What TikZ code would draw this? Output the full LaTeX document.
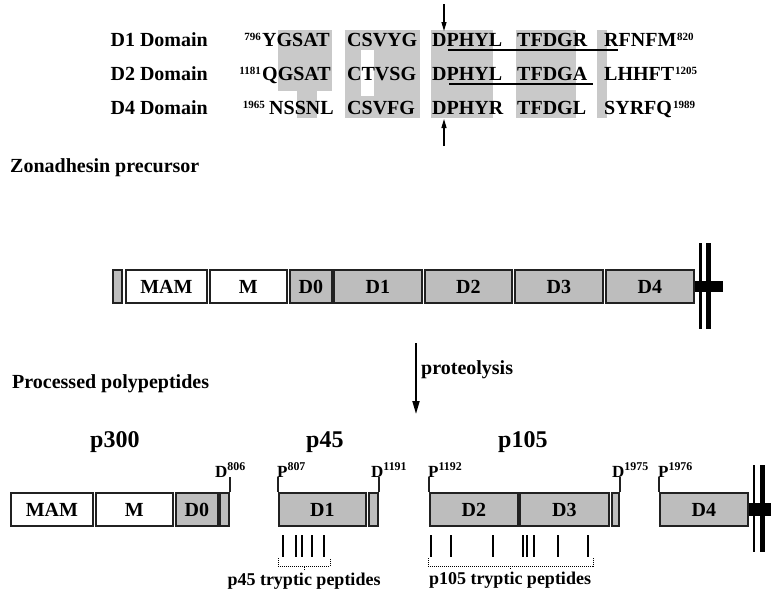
\documentclass[tikz,border=0pt]{standalone}
\usepackage{fontspec}
\setmainfont{Liberation Serif}
\usetikzlibrary{arrows.meta, positioning}
\definecolor{boxgrey}{gray}{0.74}
\definecolor{shadegrey}{gray}{0.79}
\definecolor{edgegrey}{gray}{0.13}

\newcommand{\fs}[1]{\fontsize{#1}{#1}\selectfont\bfseries}

\begin{document}
\begin{tikzpicture}[x=1pt, y=-1pt,
  dom/.style={draw=edgegrey, line width=1.8pt, minimum height=33pt, inner sep=0pt, anchor=west, font=\fs{20}},
  whitedom/.style={dom, fill=white},
  greydom/.style={dom, fill=boxgrey},
  seq/.style={anchor=base west, inner sep=0pt, font=\fs{20}},
  num/.style={inner sep=0pt, font=\fs{11}},
  site/.style={anchor=base west, inner sep=0pt, font=\fs{17}},
  title/.style={anchor=base west, inner sep=0pt, font=\fs{20}},
  cut/.style={line width=1.4pt, draw=edgegrey},
  thinmark/.style={line width=1.2pt},
  thickmark/.style={line width=2.4pt},
  bracket/.style={densely dotted, line width=1pt},
  memthin/.style={line width=2.5pt},
  memthick/.style={line width=5pt},
  pointer/.style={-{Triangle[length=9pt,width=5pt]}, line width=1.2pt},
]
\useasboundingbox (0,0) rectangle (771,595);

% alignment of the domains
\fill[shadegrey] (278,30) rectangle (332,91);
\fill[shadegrey] (297,91) rectangle (317,118);
\fill[shadegrey] (345,30) rectangle (420,118);
\fill[white] (361,50) rectangle (374,96);
\fill[shadegrey] (431,30) rectangle (493,118);
\fill[shadegrey] (516,30) rectangle (576,118);
\fill[shadegrey] (597,30) rectangle (607,118);

\node[title, anchor=base east] (lab1) at (208,46) {D1 Domain};
\node[title, anchor=base east] (lab2) at (208,80) {D2 Domain};
\node[title, anchor=base east] (lab4) at (208,114) {D4 Domain};

\node[num, anchor=base east] (n796) at (261,40) {796};
\node[seq] (g11) at (262,46) {YGSAT};
\node[seq] (g12) at (347,46) {CSVYG};
\node[seq] (g13) at (432,46) {DPHYL};
\node[seq] (g14) at (517,46) {TFDGR};
\node[seq] (g15) at (604,46) {RFNFM};
\node[num, anchor=base west] (n820) at (677,40) {820};

\node[num, anchor=base east] (n1181) at (261,74) {1181};
\node[seq] (g21) at (262,80) {QGSAT};
\node[seq] (g22) at (347,80) {CTVSG};
\node[seq] (g23) at (432,80) {DPHYL};
\node[seq] (g24) at (517,80) {TFDGA};
\node[seq] (g25) at (604,80) {LHHFT};
\node[num, anchor=base west] (n1205) at (675,74) {1205};

\node[num, anchor=base east] (n1965) at (265,108) {1965};
\node[seq] (g31) at (269,114) {NSSNL};
\node[seq] (g32) at (347,114) {CSVFG};
\node[seq] (g33) at (432,114) {DPHYR};
\node[seq] (g34) at (517,114) {TFDGL};
\node[seq] (g35) at (604,114) {SYRFQ};
\node[num, anchor=base west] (n1989) at (673,108) {1989};

\draw[line width=1.5pt] (448,50) -- (618,50);
\draw[line width=1.5pt] (449,84) -- (593,84);

\coordinate (top1) at (444,4);
\coordinate (cut1) at (444,31);
\draw[pointer] (top1) -- (cut1);
\coordinate (bot1) at (444,146);
\coordinate (cut2) at (444,119);
\draw[pointer] (bot1) -- (cut2);

% precursor
\node[title] (zona) at (10,172) {Zonadhesin precursor};

\node[greydom, minimum width=9pt] (sig) at (112,286.5) {};
\node[whitedom, minimum width=81pt] (mam) at (125,286.5) {MAM};
\node[whitedom, minimum width=77pt] (m) at (209,286.5) {M};
\node[greydom, minimum width=42pt] (d0) at (289,286.5) {D0};
\node[greydom, minimum width=88pt] (d1) at (333,286.5) {D1};
\node[greydom, minimum width=87pt] (d2) at (424,286.5) {D2};
\node[greydom, minimum width=88pt] (d3) at (514,286.5) {D3};
\node[greydom, minimum width=88pt] (d4) at (605,286.5) {D4};
\coordinate (tail1) at (723,286.5);
\draw[line width=11pt] (d4.east) -- (tail1);
\draw[memthin] (700.5,243) -- (700.5,329);
\draw[memthick] (708,243) -- (708,329);

% cleavage
\coordinate (pstart) at (416,343);
\coordinate (pend) at (416,414);
\draw[-{Triangle[length=13pt,width=7pt]}, line width=1.8pt] (pstart) -- (pend);
\node[title, anchor=west] (prot) at (421,370) {proteolysis};

\node[title] (proc) at (12,388) {Processed polypeptides};

% processed products
\node[title, font=\fs{24}] (p300) at (90,447) {p300};
\node[title, font=\fs{24}] (p45) at (306,447) {p45};
\node[title, font=\fs{24}] (p105) at (498,447) {p105};

\node[whitedom, minimum width=82pt] (pmam) at (10,509.5) {MAM};
\node[whitedom, minimum width=77pt] (pm) at (95,509.5) {M};
\node[greydom, minimum width=42pt] (pd0) at (175,509.5) {D0};
\node[greydom, minimum width=9pt] (pe1) at (219,509.5) {};
\node[greydom, minimum width=87pt] (pd1) at (278,509.5) {D1};
\node[greydom, minimum width=9pt] (pe2) at (368,509.5) {};
\node[greydom, minimum width=88pt] (pd2) at (429,509.5) {D2};
\node[greydom, minimum width=89pt] (pd3) at (519,509.5) {D3};
\node[greydom, minimum width=7pt] (pe3) at (611,509.5) {};
\node[greydom, minimum width=88pt] (pd4) at (659,509.5) {D4};
\coordinate (tail2) at (771,509.5);
\draw[line width=13pt] (pd4.east) -- (tail2);
\draw[memthin] (754,465) -- (754,552);
\draw[memthick] (762,465) -- (762,552);

\node[site] (s806) at (215,477) {D\textsuperscript{806}};
\node[site] (s807) at (277,477) {P\textsuperscript{807}};
\node[site] (s1191) at (371,477) {D\textsuperscript{1191}};
\node[site] (s1192) at (428,477) {P\textsuperscript{1192}};
\node[site] (s1975) at (612,477) {D\textsuperscript{1975}};
\node[site] (s1976) at (658,477) {P\textsuperscript{1976}};
\draw[cut] (pe1.north east) -- (pe1.north east |- s806.south);
\draw[cut] (pd1.north west) -- (pd1.north west |- s807.south);
\draw[cut] (pe2.north east) -- (pe2.north east |- s1191.south);
\draw[cut] (pd2.north west) -- (pd2.north west |- s1192.south);
\draw[cut] (pe3.north east) -- (pe3.north east |- s1975.south);
\draw[cut] (pd4.north west) -- (pd4.north west |- s1976.south);

% tryptic peptides
\foreach \x in {302,312,324,431,523,527}
  \draw[thinmark] (\x,535) -- (\x,557);
\foreach \x in {283,296,451,493,534,558,588}
  \draw[thickmark] (\x,535) -- (\x,557);

\node[font=\fs{18}, inner sep=0pt] (t45) at (304,581) {p45 tryptic peptides};
\node[font=\fs{18}, inner sep=0pt] (t105) at (510,580) {p105 tryptic peptides};
\draw[bracket] (278,558) -- (278,566) -- (330,566) -- (330,558);
\draw[bracket] (t45.north -| 304,0) ++(0,-3) -- (304,566);
\draw[bracket] (428,558) -- (428,566) -- (593,566) -- (593,558);
\draw[bracket] (t105.north -| 510,0) ++(0,-3) -- (510,566);
\end{tikzpicture}
\end{document}
